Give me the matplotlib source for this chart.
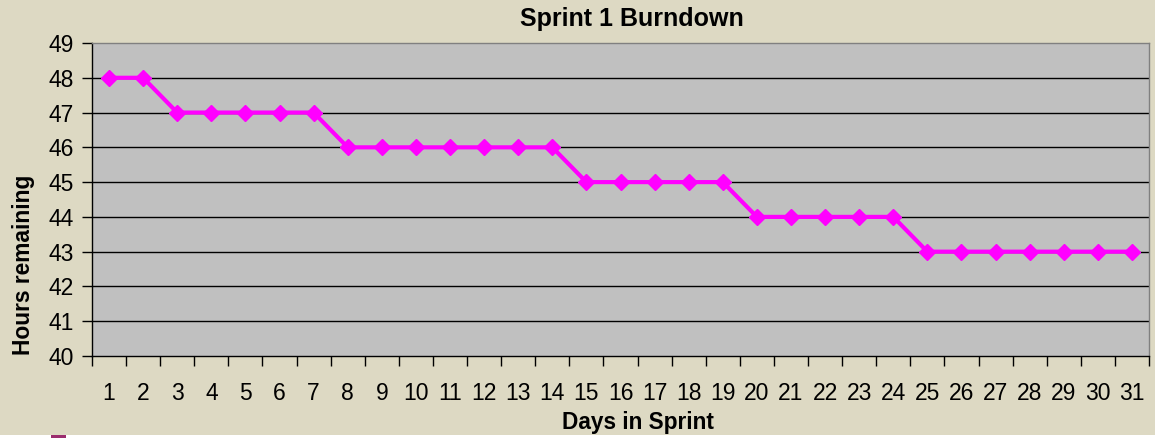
import matplotlib
matplotlib.use("Agg")
import matplotlib.pyplot as plt
from matplotlib.patches import Rectangle

days = list(range(1, 32))
hours = [48, 48, 47, 47, 47, 47, 47, 46, 46, 46, 46, 46, 46, 46,
         45, 45, 45, 45, 45, 44, 44, 44, 44, 44, 43, 43, 43, 43, 43, 43, 43]
y_ticks = list(range(40, 50))
title = "Sprint 1 Burndown"
x_label = "Days in Sprint"
y_label = "Hours remaining"

plt.rcParams['font.family'] = ['Liberation Sans', 'DejaVu Sans']

W, H = 1155, 438
fig = plt.figure(figsize=(W / 100, H / 100), dpi=100)
fig.patch.set_facecolor('#DDD9C3')

# bottom white strip with small legend fragment
fig.patches.append(Rectangle((0, 0), 1, 3 / H, transform=fig.transFigure,
                             facecolor='white', edgecolor='none', zorder=0))
fig.patches.append(Rectangle((51 / W, 0), 15 / W, 3 / H, transform=fig.transFigure,
                             facecolor='#9B2D6E', edgecolor='none', zorder=1))

left, right, top, bottom = 92, 1149, 43, 356
ax = fig.add_axes([left / W, 1 - bottom / H, (right - left) / W, (bottom - top) / H])
ax.set_facecolor('#C0C0C0')

ax.plot(days, hours, color='#FF00FF', linewidth=3, marker='D', markersize=8,
        markeredgecolor='#FF00FF', zorder=3)

ax.set_xlim(0.5, len(days) + 0.5)
ax.set_ylim(y_ticks[0], y_ticks[-1])
ax.set_yticks(y_ticks)
ax.set_yticklabels([str(v) for v in y_ticks])
ax.set_xticks(days)
ax.set_xticklabels([str(d) for d in days])
ax.set_xticks([d + 0.5 for d in [0] + days], minor=True)

ax.tick_params(axis='x', which='major', length=0, labelsize=16.5, pad=19)
ax.tick_params(axis='x', which='minor', length=7, width=1, color='black', direction='out')
ax.tick_params(axis='y', which='major', length=7, width=1, color='black',
               direction='out', labelsize=16.5, pad=6)

for y in y_ticks[1:-1]:
    ax.axhline(y, color='black', linewidth=1, zorder=1)

ax.spines['left'].set_color('black')
ax.spines['bottom'].set_color('black')
ax.spines['top'].set_color('#808080')
ax.spines['right'].set_color('#808080')
for s in ax.spines.values():
    s.set_linewidth(1)

fig.text(632 / W, 1 - 19 / H, title, ha='center', va='center',
         fontsize=18, fontweight='bold')
fig.text(638 / W, 1 - 422 / H, x_label, ha='center', va='center',
         fontsize=16.3, fontweight='bold')
fig.text(24 / W, 1 - 265 / H, y_label, ha='center', va='center', rotation=90,
         fontsize=16.4, fontweight='bold')

fig.savefig('out.png', dpi=100, facecolor=fig.get_facecolor())
